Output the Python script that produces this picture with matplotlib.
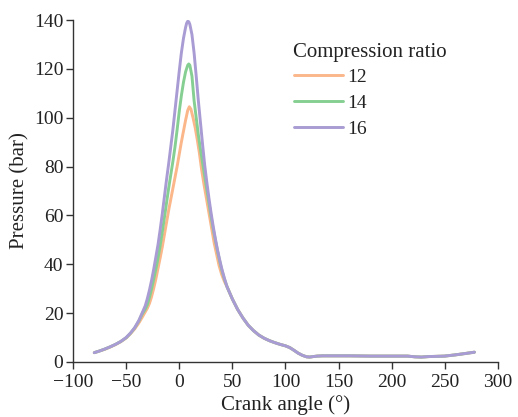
import matplotlib
matplotlib.use("Agg")
import matplotlib.pyplot as plt

plt.rcParams['font.family'] = ['Liberation Serif', 'DejaVu Serif']

# Crank angle (deg) and pressure (bar) for each compression ratio
tail_x = [45, 50, 55, 60, 65, 70, 75, 80, 85, 90, 95, 100, 104, 108, 112, 116, 120, 123,
          126, 130, 135, 140, 160, 180, 200, 215, 222, 228, 235, 250, 260, 270, 278]
tail_p = [30.8, 25.8, 21.5, 18.0, 15.0, 12.8, 11.0, 9.7, 8.7, 7.9, 7.2, 6.6, 5.9, 4.8, 3.6, 2.7, 2.1, 2.0,
          2.2, 2.4, 2.5, 2.5, 2.5, 2.4, 2.4, 2.4, 2.1, 2.0, 2.2, 2.4, 2.9, 3.5, 4.0]

x12 = [-80, -75, -70, -65, -60, -55, -50, -46, -42, -38, -35, -32, -30, -28, -26, -24, -22,
       -20, -18, -16, -14, -12, -10, -8, -6, -4, -2, 0, 2, 4, 6, 8, 9.5, 11, 13, 15,
       17, 19, 21, 23, 25, 27, 29, 31, 33, 35, 37.5, 40, 42.5] + tail_x
p12 = [3.8, 4.5, 5.2, 6.1, 7.1, 8.3, 9.8, 11.5, 13.5, 16.0, 18.2, 20.5, 22.0, 24.0, 26.8, 30.2, 34.0,
       38.3, 42.5, 47, 52, 57, 62, 66.5, 71, 75.5, 80, 85, 90, 94.5, 99, 103, 104.5, 103.5, 100, 96,
       91, 85.5, 79, 73.5, 68.5, 63.5, 58.5, 53.5, 48.5, 44.5, 39.5, 35.8, 33] + tail_p

x14 = [-80, -75, -70, -65, -60, -55, -50, -46, -42, -38, -35, -32, -30, -28, -26, -24, -22,
       -20, -18, -16, -14, -12, -10, -8, -6, -4, -2, 0, 2, 4, 6, 8, 9, 10, 12, 14,
       16, 18, 20, 22, 24, 26, 28, 30, 32, 34, 36, 38, 40, 42.5] + tail_x
p14 = [3.8, 4.5, 5.3, 6.2, 7.2, 8.4, 9.9, 11.7, 13.9, 16.8, 19.5, 21.6, 23.5, 26.5, 30, 34, 38,
       42.5, 47.5, 53, 59, 65, 71, 76.5, 82, 88, 95, 102.5, 109, 114.5, 118.8, 121.5, 122, 121.5, 117, 107,
       100, 93, 87, 81.5, 76, 70.5, 65, 59.5, 54.5, 50, 45.5, 41.5, 37.8, 34] + tail_p

x16 = [-80, -75, -70, -65, -60, -55, -50, -46, -42, -38, -35, -32, -30, -28, -26, -24, -22,
       -20, -18, -16, -14, -12, -10, -8, -6, -4, -2, 0, 2, 4, 6, 7, 8, 9, 10, 12, 14,
       16, 18, 20, 22, 24, 26, 28, 30, 32, 34, 36, 38, 40, 42.5] + tail_x
p16 = [3.8, 4.5, 5.3, 6.2, 7.2, 8.4, 10, 11.8, 14, 17, 20, 23, 26, 29.5, 33.5, 38, 43,
       48, 54, 60.5, 67.5, 74.5, 81, 88, 95, 103, 111, 119, 126.5, 132.5, 137, 138.7, 139.5, 139.3, 138.2, 134, 126.5,
       117, 107, 98, 89, 80.5, 73.5, 67, 61, 55.5, 50.5, 46, 42, 38.3, 34.3] + tail_p

labels = ['12', '14', '16']
legend_title = 'Compression ratio'
colors = ['#FBB68A', '#86CF92', '#A99BD3']

fig = plt.figure(figsize=(5.18, 4.17), dpi=100)
ax = fig.add_axes([0.141, 0.132, 0.820, 0.820])

for xs, ps, lab, c in zip([x12, x14, x16], [p12, p14, p16], labels, colors):
    ax.plot(xs, ps, color=c, lw=2.1, label=lab, solid_capstyle='round', solid_joinstyle='round')

ax.set_xlim(-100, 300)
ax.set_ylim(0, 140)
ax.set_xticks(range(-100, 301, 50))
ax.set_yticks(range(0, 141, 20))
for s in ['top', 'right']:
    ax.spines[s].set_visible(False)
for s in ['left', 'bottom']:
    ax.spines[s].set_color('#333333')
    ax.spines[s].set_linewidth(1.0)
ax.tick_params(direction='out', length=5, width=1.0, color='#333333',
               labelsize=14, labelcolor='#222222')
ax.tick_params(axis='x', pad=3.5)
ax.tick_params(axis='y', pad=2)
ax.set_xlabel('Crank angle (°)', fontsize=15, color='#222222', labelpad=3)
ax.set_ylabel('Pressure (bar)', fontsize=15, color='#222222', labelpad=3)

fig.text(293 / 518, 1 - 56.5 / 417, legend_title, fontsize=15, color='#222222',
         ha='left', va='baseline')
leg = ax.legend(loc='upper left',
                bbox_to_anchor=(294 / 518, 1 - 68 / 417), bbox_transform=fig.transFigure,
                frameon=False, fontsize=14,
                handlelength=2.52, handletextpad=0.2, labelspacing=0.43,
                borderaxespad=0, borderpad=0)
for t in leg.get_texts():
    t.set_color('#222222')

fig.savefig('out.png', dpi=100)
